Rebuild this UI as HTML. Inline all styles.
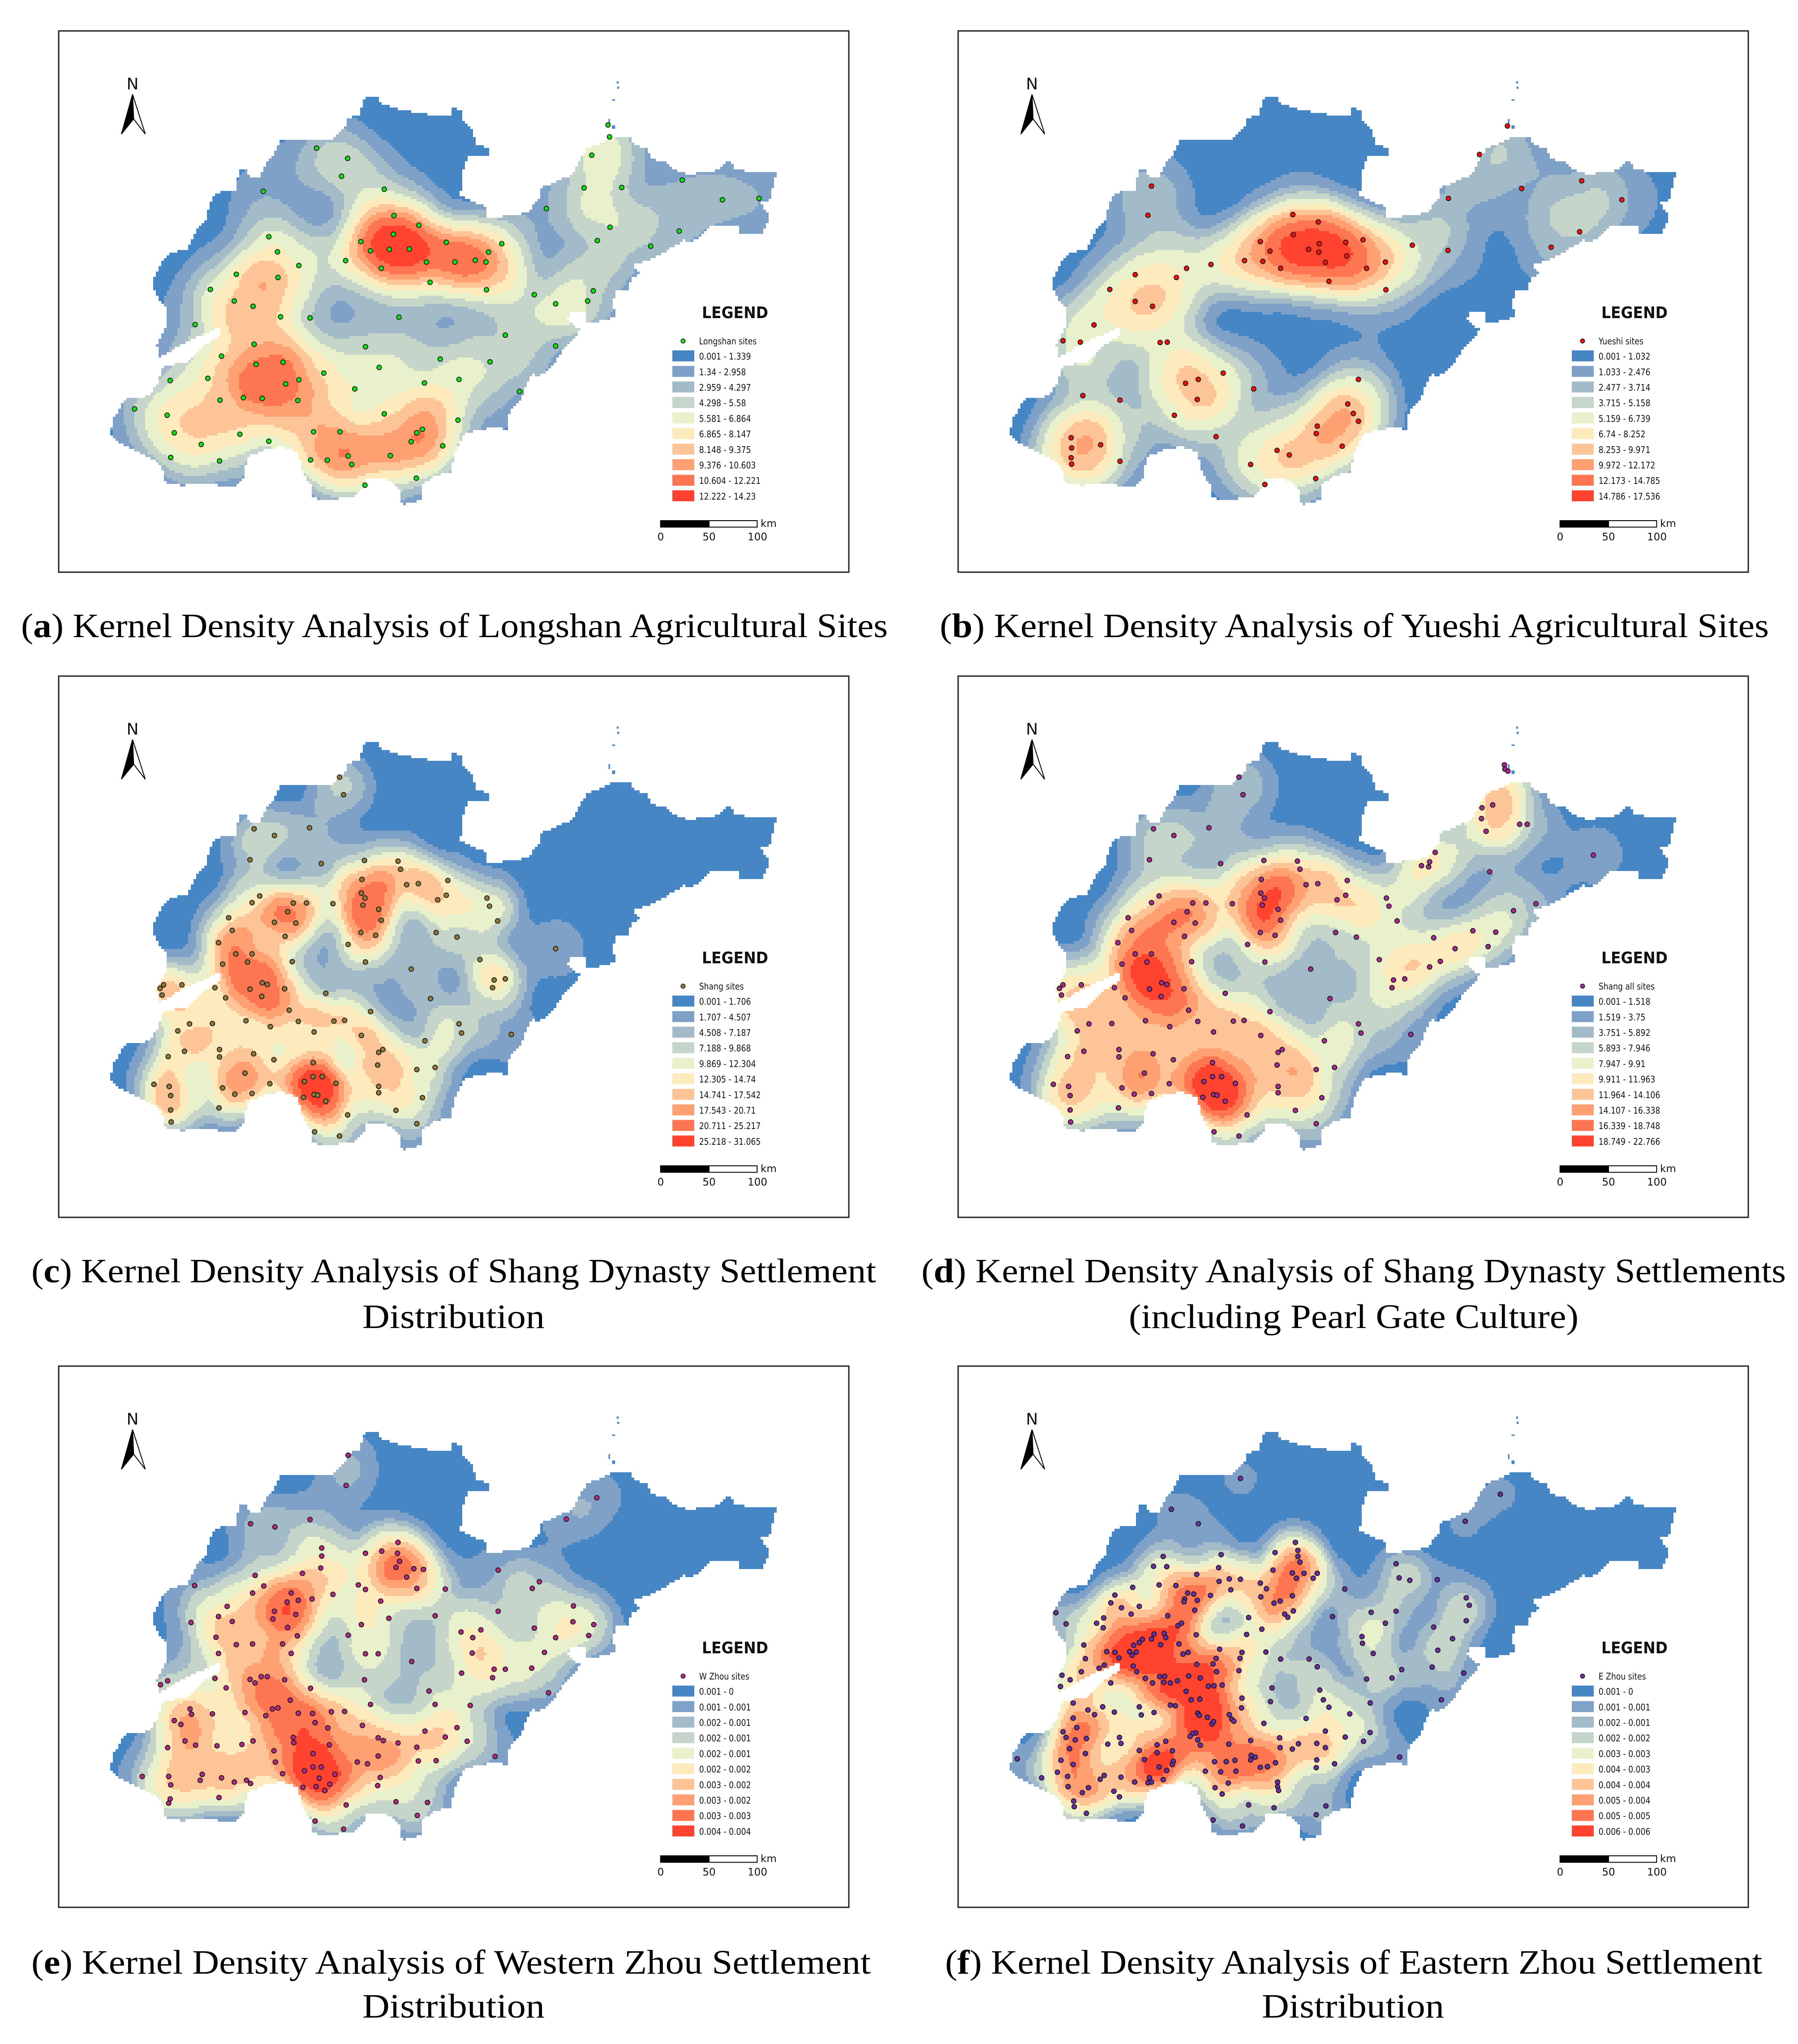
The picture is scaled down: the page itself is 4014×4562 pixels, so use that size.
<!DOCTYPE html>
<html lang="en">
<head>
<meta charset="utf-8">
<title>Kernel Density Analysis of Settlement Sites</title>
<style>
html,body{margin:0;padding:0;background:#fff}
svg{display:block}
.leg{font-family:"DejaVu Sans","Liberation Sans",sans-serif;fill:#111}
.cap{font-family:"Liberation Serif",serif;font-size:76px;fill:#000}
</style>
</head>
<body>
<svg id="figure" xmlns="http://www.w3.org/2000/svg" width="4014" height="4562" viewBox="0 0 4014 4562">
<rect width="4014" height="4562" fill="#fff"/>
<g id="panels"></g>
<text class="cap" x="47" y="1422" textLength="1935" lengthAdjust="spacingAndGlyphs">(<tspan font-weight="bold">a</tspan>) Kernel Density Analysis of Longshan Agricultural Sites</text>
<text class="cap" x="2098" y="1422" textLength="1851" lengthAdjust="spacingAndGlyphs">(<tspan font-weight="bold">b</tspan>) Kernel Density Analysis of Yueshi Agricultural Sites</text>
<text class="cap" x="70" y="2862" textLength="1886" lengthAdjust="spacingAndGlyphs">(<tspan font-weight="bold">c</tspan>) Kernel Density Analysis of Shang Dynasty Settlement</text>
<text class="cap" x="809" y="2964" textLength="407" lengthAdjust="spacingAndGlyphs">Distribution</text>
<text class="cap" x="2057" y="2862" textLength="1930" lengthAdjust="spacingAndGlyphs">(<tspan font-weight="bold">d</tspan>) Kernel Density Analysis of Shang Dynasty Settlements</text>
<text class="cap" x="2520" y="2964" textLength="1004" lengthAdjust="spacingAndGlyphs">(including Pearl Gate Culture)</text>
<text class="cap" x="70" y="4405" textLength="1874" lengthAdjust="spacingAndGlyphs">(<tspan font-weight="bold">e</tspan>) Kernel Density Analysis of Western Zhou Settlement</text>
<text class="cap" x="809" y="4503" textLength="407" lengthAdjust="spacingAndGlyphs">Distribution</text>
<text class="cap" x="2110" y="4405" textLength="1824" lengthAdjust="spacingAndGlyphs">(<tspan font-weight="bold">f</tspan>) Kernel Density Analysis of Eastern Zhou Settlement</text>
<text class="cap" x="2817" y="4503" textLength="407" lengthAdjust="spacingAndGlyphs">Distribution</text>
</svg>
<script>
// Class colours, shared by every panel
const classColors = ['#4686c4','#7fa1c8','#a3bbc9','#c5d5c9','#e8f0cc','#fdebbd','#fdc597','#fea071','#fe7551','#ff432f'];

// Sites, in map units
const longshanSites = [[517,345],[578,374],[566,425],[650,462],[412,468],[1090,279],[1093,313],[1058,365],[1236,436],[1043,458],[1117,457],[1315,492],[1387,488],[969,517],[669,537],[718,564],[1094,570],[668,590],[423,597],[604,611],[772,613],[881,617],[1069,608],[1230,581],[1174,624],[623,637],[660,633],[699,632],[855,641],[440,640],[574,665],[733,669],[789,669],[829,664],[850,669],[482,679],[644,687],[359,704],[441,713],[740,727],[308,747],[851,748],[945,762],[1061,751],[355,780],[392,795],[1050,780],[987,788],[446,825],[504,828],[679,826],[278,847],[888,877],[394,903],[613,910],[987,908],[330,937],[760,945],[858,953],[451,954],[398,960],[640,969],[531,985],[303,1000],[229,1006],[482,1004],[797,1003],[456,1016],[729,1013],[592,1030],[916,1037],[373,1055],[410,1057],[327,1062],[480,1063],[159,1087],[650,1101],[223,1105],[795,1119],[725,1145],[511,1152],[563,1152],[714,1155],[237,1155],[366,1159],[423,1179],[703,1180],[290,1188],[765,1192],[579,1221],[662,1220],[230,1225],[505,1232],[538,1233],[326,1235],[586,1245],[713,1284],[612,1304]];
const yueshiSites = [[1097,282],[397,453],[1042,363],[1243,438],[1125,460],[981,488],[1322,492],[390,536],[675,534],[725,555],[1239,583],[676,591],[611,611],[779,613],[813,606],[727,617],[706,633],[726,641],[630,638],[910,621],[980,636],[1183,627],[781,652],[580,665],[616,667],[739,670],[857,669],[514,676],[466,687],[651,687],[820,687],[365,705],[446,713],[746,724],[315,747],[858,748],[365,781],[399,795],[284,848],[223,893],[257,897],[414,898],[428,897],[538,985],[804,1003],[489,1003],[464,1014],[598,1030],[262,1049],[335,1062],[487,1060],[783,1073],[794,1100],[442,1105],[804,1122],[723,1136],[721,1157],[239,1169],[524,1166],[297,1189],[240,1198],[772,1193],[644,1205],[668,1218],[239,1226],[335,1236],[240,1244],[592,1245],[720,1285],[620,1302]];
const shangSites = [[562,299],[570,349],[394,446],[503,443],[434,465],[386,534],[526,545],[611,536],[677,538],[682,561],[606,590],[775,593],[694,605],[717,602],[605,629],[612,643],[772,635],[405,637],[852,643],[390,656],[471,657],[497,657],[549,659],[857,666],[608,663],[755,648],[639,675],[460,682],[344,699],[644,706],[873,708],[434,712],[476,714],[351,735],[604,741],[752,741],[455,752],[633,749],[793,754],[324,770],[579,775],[987,787],[358,802],[390,802],[838,818],[381,825],[469,824],[613,825],[332,831],[703,845],[866,876],[888,873],[410,884],[420,889],[216,890],[252,890],[209,900],[317,898],[386,902],[454,901],[863,898],[535,914],[213,919],[409,923],[338,927],[741,929],[463,962],[623,966],[378,992],[481,994],[551,993],[572,991],[267,1001],[312,1000],[426,1009],[797,1001],[244,1021],[512,1024],[802,1027],[900,1031],[605,1034],[730,1049],[326,1074],[647,1074],[257,1079],[639,1082],[393,1086],[225,1094],[326,1095],[433,1103],[510,1111],[637,1118],[750,1125],[714,1131],[376,1141],[510,1151],[528,1151],[493,1165],[425,1171],[555,1170],[197,1173],[227,1179],[639,1179],[332,1183],[356,1201],[390,1199],[639,1197],[230,1205],[512,1202],[519,1204],[491,1210],[725,1211],[535,1221],[325,1240],[230,1246],[673,1247],[578,1260],[231,1280],[714,1285],[513,1308],[562,1320]];
const shangAllExtraSites = [[1091,264],[1092,276],[1098,282],[1068,378],[1047,386],[1046,417],[1121,433],[1136,433],[1055,453],[955,513],[944,540],[928,551],[942,554],[1266,521],[1062,568],[1153,659],[1109,679],[1029,736],[1074,740],[952,756],[1059,781],[965,823],[944,839]];
const wZhouSites = [[579,265],[575,351],[1068,386],[387,460],[435,469],[504,448],[1008,447],[677,513],[527,529],[645,538],[613,544],[527,552],[676,544],[680,567],[525,586],[673,584],[708,588],[727,590],[874,592],[489,601],[396,607],[694,612],[955,625],[413,637],[277,636],[599,634],[613,647],[941,644],[714,644],[770,646],[391,657],[467,657],[549,661],[481,678],[508,674],[459,683],[643,680],[341,695],[1022,694],[434,709],[874,709],[476,718],[750,722],[324,724],[659,729],[431,731],[351,738],[1021,739],[270,741],[605,747],[1062,747],[460,755],[945,757],[840,762],[801,768],[479,779],[579,777],[824,784],[319,783],[1052,778],[987,784],[359,804],[391,802],[450,802],[467,829],[324,829],[613,830],[638,830],[823,828],[965,826],[704,852],[866,874],[888,874],[940,871],[408,895],[420,895],[802,885],[863,898],[317,900],[386,903],[454,904],[611,904],[224,907],[396,913],[210,918],[339,927],[505,928],[738,936],[973,941],[465,962],[623,974],[750,974],[819,977],[441,984],[430,987],[268,987],[481,999],[509,1000],[546,995],[572,994],[376,997],[312,1001],[271,1002],[417,1006],[237,1020],[514,1026],[250,1031],[607,1034],[539,1041],[793,1040],[730,1050],[471,1068],[770,1067],[638,1069],[648,1077],[258,1078],[472,1083],[677,1084],[813,1079],[279,1090],[392,1078],[370,1088],[321,1092],[542,1089],[224,1097],[714,1096],[433,1106],[510,1114],[638,1121],[868,1122],[436,1138],[597,1138],[617,1143],[717,1135],[752,1134],[510,1152],[526,1152],[493,1163],[450,1171],[553,1173],[292,1173],[174,1179],[226,1179],[642,1182],[330,1183],[522,1184],[288,1190],[379,1190],[355,1195],[387,1199],[543,1201],[230,1203],[637,1205],[490,1210],[516,1208],[533,1219],[325,1239],[229,1243],[226,1255],[673,1251],[735,1253],[575,1260],[715,1290],[514,1306],[570,1329]];
const eZhouSites = [[572,331],[1083,376],[436,419],[489,460],[1014,453],[680,513],[685,536],[640,542],[534,548],[420,553],[685,553],[689,569],[878,574],[401,581],[427,582],[529,585],[636,592],[486,604],[674,600],[697,601],[723,601],[682,615],[715,615],[884,614],[905,621],[550,617],[572,618],[959,619],[530,624],[611,629],[412,634],[445,636],[623,645],[360,641],[777,646],[553,648],[468,657],[480,660],[325,663],[513,664],[674,665],[612,668],[462,674],[461,682],[487,678],[1016,671],[650,680],[638,686],[317,685],[1022,692],[373,695],[338,699],[482,706],[676,708],[829,712],[878,709],[209,713],[357,717],[659,717],[665,726],[753,724],[429,722],[303,728],[588,727],[1016,736],[456,743],[449,750],[857,743],[289,743],[229,745],[302,756],[952,754],[614,760],[402,774],[422,772],[584,775],[485,776],[811,781],[425,784],[379,789],[397,788],[989,787],[373,798],[812,800],[415,804],[362,806],[451,802],[264,805],[531,817],[309,824],[325,826],[354,824],[367,825],[469,826],[459,831],[575,826],[359,834],[622,825],[833,829],[960,820],[333,842],[267,844],[524,843],[571,843],[651,845],[707,845],[304,862],[294,871],[361,865],[486,860],[518,859],[723,867],[949,868],[889,875],[569,878],[368,881],[259,881],[525,881],[221,891],[470,893],[413,895],[423,894],[1011,885],[385,900],[493,899],[870,899],[237,904],[820,902],[448,907],[399,913],[421,911],[434,913],[317,913],[218,923],[509,922],[520,921],[536,919],[634,927],[728,933],[465,937],[575,956],[475,961],[492,959],[967,961],[243,970],[735,961],[827,970],[631,966],[434,976],[444,978],[373,981],[301,981],[746,982],[574,984],[272,990],[324,996],[402,997],[488,999],[491,1005],[285,1003],[377,1004],[550,1003],[787,1001],[507,1011],[243,1013],[555,1016],[559,1022],[701,1014],[516,1030],[519,1023],[618,1028],[250,1040],[223,1052],[739,1050],[827,1054],[484,1055],[478,1057],[473,1065],[229,1068],[334,1068],[649,1069],[269,1071],[778,1067],[247,1075],[488,1075],[425,1079],[337,1085],[311,1087],[814,1079],[686,1086],[722,1085],[408,1089],[549,1087],[592,1077],[493,1090],[650,1097],[674,1101],[739,1097],[236,1100],[373,1105],[438,1106],[408,1111],[267,1114],[593,1119],[601,1124],[885,1124],[133,1129],[219,1133],[383,1131],[592,1132],[722,1132],[521,1137],[544,1137],[561,1133],[440,1136],[641,1140],[243,1145],[438,1145],[757,1143],[412,1152],[611,1153],[625,1151],[721,1154],[427,1162],[503,1164],[212,1167],[533,1166],[563,1164],[304,1176],[232,1179],[337,1181],[181,1183],[393,1183],[296,1187],[420,1188],[364,1195],[397,1195],[390,1197],[645,1195],[548,1198],[233,1208],[273,1211],[645,1208],[522,1211],[647,1219],[261,1225],[323,1221],[536,1229],[334,1237],[244,1249],[245,1265],[588,1260],[638,1268],[740,1263],[269,1284],[721,1288],[518,1303],[576,1320]];

// Legend labels
const labelsA = ['0.001 - 1.339','1.34 - 2.958','2.959 - 4.297','4.298 - 5.58','5.581 - 6.864','6.865 - 8.147','8.148 - 9.375','9.376 - 10.603','10.604 - 12.221','12.222 - 14.23'];
const labelsB = ['0.001 - 1.032','1.033 - 2.476','2.477 - 3.714','3.715 - 5.158','5.159 - 6.739','6.74 - 8.252','8.253 - 9.971','9.972 - 12.172','12.173 - 14.785','14.786 - 17.536'];
const labelsC = ['0.001 - 1.706','1.707 - 4.507','4.508 - 7.187','7.188 - 9.868','9.869 - 12.304','12.305 - 14.74','14.741 - 17.542','17.543 - 20.71','20.711 - 25.217','25.218 - 31.065'];
const labelsD = ['0.001 - 1.518','1.519 - 3.75','3.751 - 5.892','5.893 - 7.946','7.947 - 9.91','9.911 - 11.963','11.964 - 14.106','14.107 - 16.338','16.339 - 18.748','18.749 - 22.766'];
const labelsE = ['0.001 - 0','0.001 - 0.001','0.002 - 0.001','0.002 - 0.001','0.002 - 0.001','0.002 - 0.002','0.003 - 0.002','0.003 - 0.002','0.003 - 0.003','0.004 - 0.004'];
const labelsF = ['0.001 - 0','0.001 - 0.001','0.002 - 0.001','0.002 - 0.002','0.003 - 0.003','0.004 - 0.003','0.004 - 0.004','0.005 - 0.004','0.005 - 0.005','0.006 - 0.006'];

// Class upper bounds
const breaksA = [1.339,2.958,4.297,5.58,6.864,8.147,9.375,10.603,12.221,14.23];
const breaksB = [1.032,2.476,3.714,5.158,6.739,8.252,9.971,12.172,14.785,17.536];
const breaksC = [1.706,4.507,7.187,9.868,12.304,14.74,17.542,20.71,25.217,31.065];
const breaksD = [1.518,3.75,5.892,7.946,9.91,11.963,14.106,16.338,18.748,22.766];
const breaksE = [0.00025,0.0006,0.0009,0.0013,0.0017,0.0021,0.0025,0.0029,0.0034,0.0042];
const breaksF = [0.0004,0.0009,0.0013,0.0018,0.0024,0.0029,0.0035,0.0041,0.0048,0.006];

// Coastline in map units
const landOutline = [[205,940],[203,905],[222,850],[222,800],[205,770],[197,745],[197,715],[210,675],[230,645],[265,630],[275,590],[300,545],[312,480],[330,468],[358,465],[365,405],[380,405],[385,430],[405,425],[420,385],[440,345],[445,325],[500,325],[545,322],[570,290],[580,260],[600,250],[612,200],[635,197],[645,220],[680,235],[740,250],[780,250],[785,230],[800,235],[805,270],[825,295],[830,335],[855,345],[858,365],[815,370],[805,410],[800,480],[825,500],[850,510],[850,545],[880,540],[930,530],[955,490],[955,460],[1020,420],[1030,390],[1050,345],[1090,322],[1095,310],[1135,312],[1140,335],[1165,345],[1175,375],[1205,385],[1225,410],[1250,420],[1300,410],[1330,380],[1340,405],[1385,415],[1427,410],[1415,440],[1412,490],[1390,500],[1408,540],[1395,585],[1350,590],[1345,565],[1290,570],[1255,615],[1240,605],[1220,625],[1170,665],[1140,675],[1150,700],[1135,720],[1130,750],[1105,750],[1100,790],[1105,825],[1050,845],[1045,810],[1015,815],[1010,835],[1035,860],[1030,875],[1000,920],[985,960],[955,995],[940,985],[918,1060],[895,1100],[890,1150],[875,1140],[840,1145],[805,1160],[790,1210],[780,1270],[755,1275],[725,1300],[722,1345],[685,1362],[680,1320],[665,1290],[615,1285],[610,1310],[590,1340],[530,1345],[510,1340],[505,1300],[490,1270],[480,1210],[450,1195],[420,1200],[380,1225],[375,1280],[355,1310],[300,1300],[250,1305],[220,1295],[212,1250],[190,1225],[180,1220],[130,1185],[112,1160],[115,1120],[140,1060],[190,1050],[205,1010],[215,965],[265,955],[290,915],[325,880],[330,852],[280,885]];
const islands = [[1107,155,4,6],[1108,170,4,6],[1098,206,6,4],[1091,262,3,14],[1098,280,6,10]];

// Kernel radius in page pixels for each panel
const bandwidths = {a:150,b:150,c:105,d:125,e:115,f:95};

const panelDefs = [
  {id:'a',cropX:120,cropY:60,landShift:0,sites:longshanSites,labels:labelsA,breaks:breaksA,title:'Longshan sites',dot:'#12e012'},
  {id:'b',cropX:2120,cropY:60,landShift:7,sites:yueshiSites,labels:labelsB,breaks:breaksB,title:'Yueshi sites',dot:'#ee1212'},
  {id:'c',cropX:120,cropY:1500,landShift:0,sites:shangSites,labels:labelsC,breaks:breaksC,title:'Shang sites',dot:'#8f7a3a'},
  {id:'d',cropX:2120,cropY:1500,landShift:7,sites:shangSites.map(function(s){return [s[0]+7,s[1]];}).concat(shangAllExtraSites),labels:labelsD,breaks:breaksD,title:'Shang all sites',dot:'#a32c8e'},
  {id:'e',cropX:120,cropY:3040,landShift:0,sites:wZhouSites,labels:labelsE,breaks:breaksE,title:'W Zhou sites',dot:'#b32a82'},
  {id:'f',cropX:2120,cropY:3040,landShift:7,sites:eZhouSites,labels:labelsF,breaks:breaksF,title:'E Zhou sites',dot:'#6a2fa0'}
];

const SX = 1780/1568, SY = 1230/1568, CELL = 6, NS = 'http://www.w3.org/2000/svg';
function svgEl(tag, attrs, parent){
  const el = document.createElementNS(NS, tag);
  for (const k in attrs) el.setAttribute(k, attrs[k]);
  parent.appendChild(el);
  return el;
}
function inLand(px, py){
  let c = false;
  for (let i=0,j=landOutline.length-1;i<landOutline.length;j=i++){
    const a = landOutline[i], b = landOutline[j];
    if ((a[1]>py)!==(b[1]>py) && px < (b[0]-a[0])*(py-a[1])/(b[1]-a[1])+a[0]) c = !c;
  }
  return c;
}
// Land mask on a shared raster
const COLS = Math.ceil(1568*SX/CELL), ROWS = Math.ceil(1568*SY/CELL);
const mask = [];
for (let r=0;r<ROWS;r++){
  const row = new Uint8Array(COLS);
  for (let c=0;c<COLS;c++) row[c] = inLand((c+.5)*CELL/SX,(r+.5)*CELL/SY) ? 1 : 0;
  mask.push(row);
}
const root = document.getElementById('panels');
panelDefs.forEach(function(p){
  const X = function(v){ return p.cropX + v*SX; };
  const Y = function(v){ return p.cropY + v*SY; };
  const g = svgEl('g', {}, root);
  
  
  const frame = svgEl('rect', {x:p.landShift?2139:131, y:p.cropY+9, width:1764, height:1208, fill:'#fff', stroke:'#222', 'stroke-width':3}, g);
  
  
  // Kernel density on the raster
  const R = bandwidths[p.id], R2 = R*R, ox = p.cropX + p.landShift*SX;
  const pts = p.sites.map(function(s){ return [X(s[0]), Y(s[1])]; });
  const grid = []; let peak = 0;
  for (let r=0;r<ROWS;r++){
    const row = new Float64Array(COLS), cy = p.cropY + (r+.5)*CELL;
    for (let c=0;c<COLS;c++){
      if (!mask[r][c]) continue;
      const cx = ox + (c+.5)*CELL; let v = 0;
      for (let k=0;k<pts.length;k++){
        const dx = pts[k][0]-cx, dy = pts[k][1]-cy, d2 = dx*dx+dy*dy;
        if (d2 < R2){ const t = 1-d2/R2; v += t*t; }
      }
      row[c] = v; if (v>peak) peak = v;
    }
    grid.push(row);
  }
  const amp = p.breaks[9]/peak;
  const ds = classColors.map(function(){ return []; });
  for (let r=0;r<ROWS;r++){
    let c = 0;
    while (c<COLS){
      if (!mask[r][c]){ c++; continue; }
      const cls = classOf(grid[r][c]*amp, p.breaks); let e = c+1;
      while (e<COLS && mask[r][e] && classOf(grid[r][e]*amp, p.breaks)===cls) e++;
      ds[cls].push('M'+(ox+c*CELL).toFixed(1)+' '+(p.cropY+r*CELL)+'h'+((e-c)*CELL)+'v'+CELL+'h-'+((e-c)*CELL)+'z');
      c = e;
    }
  }
  ds.forEach(function(d,i){
    const path = svgEl('path', {d:d.join(''), fill:classColors[i], 'shape-rendering':'crispEdges'}, g);
    
    
  });
  islands.forEach(function(b){
    const isle = svgEl('rect', {x:X(b[0]+p.landShift), y:Y(b[1]), width:b[2]*SX, height:b[3]*SY, fill:classColors[0]}, g);
    
    
  });
  // Sites
  p.sites.forEach(function(s){
    const dot = svgEl('circle', {cx:X(s[0]), cy:Y(s[1]), r:5.3, fill:p.dot, stroke:'#111', 'stroke-width':1.6}, g);
    
    
  });
  // North arrow
  const s = p.landShift;
  const nText = svgEl('text', {x:X(155+s), y:Y(178), 'text-anchor':'middle', 'font-size':36, class:'leg'}, g);
  nText.textContent = 'N';
  
  
  const pt = function(a){ return a.map(function(q){ return X(q[0]+s)+','+Y(q[1]); }).join(' '); };
  const aw = svgEl('polygon', {points:pt([[155,192],[180,305],[157,262]]), fill:'#fff', stroke:'#000', 'stroke-width':2}, g);
  
  
  const ab = svgEl('polygon', {points:pt([[155,192],[133,305],[157,262]]), fill:'#000', stroke:'#000', 'stroke-width':2}, g);
  
  
  // Legend, placed relative to the panel
  const lx = p.cropX + (p.landShift?8:0), ly = p.cropY;
  const lt = svgEl('text', {x:lx+1447, y:ly+650, 'font-size':36, 'font-weight':'bold', class:'leg', textLength:148, lengthAdjust:'spacingAndGlyphs', fill:'#000'}, g);
  lt.textContent = 'LEGEND';
  
  
  const ld = svgEl('circle', {cx:lx+1405, cy:ly+701, r:4.8, fill:p.dot, stroke:'#111', 'stroke-width':1.4}, g);
  
  
  legendText(g, lx+1440.7, ly+708.5, p.title, 'legend-site-label');
  p.labels.forEach(function(label,i){
    const sw = svgEl('rect', {x:lx+1381, y:ly+722+i*34.7, width:49, height:24.5, fill:classColors[i]}, g);
    
    
    legendText(g, lx+1440.7, ly+742.6+i*34.7, label, 'legend-label-' + (i+1));
  });
  // Scale bar
  const b1 = svgEl('rect', {x:lx+1354.7, y:ly+1102, width:108.3, height:14.5, fill:'#000', stroke:'#000', 'stroke-width':2}, g);
  
  
  const b2 = svgEl('rect', {x:lx+1463, y:ly+1102, width:107.4, height:14.5, fill:'#fff', stroke:'#000', 'stroke-width':2}, g);
  
  
  scaleText(g, lx+1355, ly+1146, '0', 'middle', 'scale-tick-0');
  scaleText(g, lx+1463, ly+1146, '50', 'middle', 'scale-tick-50');
  scaleText(g, lx+1571, ly+1146, '100', 'middle', 'scale-tick-100');
  scaleText(g, lx+1578, ly+1116, 'km', 'start', 'scale-unit');
});
function classOf(v, br){
  for (let i=0;i<10;i++) if (v<=br[i]) return i;
  return 9;
}
function legendText(g, x, y, str, name){
  const t = svgEl('text', {class:'leg', 'font-size':20.5, transform:'translate('+x+' '+y+') scale(.84 1)'}, g);
  t.textContent = str;
  
  
}
function scaleText(g, x, y, str, anchor, name){
  const t = svgEl('text', {x:x, y:y, class:'leg', 'font-size':23, 'text-anchor':anchor}, g);
  t.textContent = str;
  
  
}
</script>
</body>
</html>
